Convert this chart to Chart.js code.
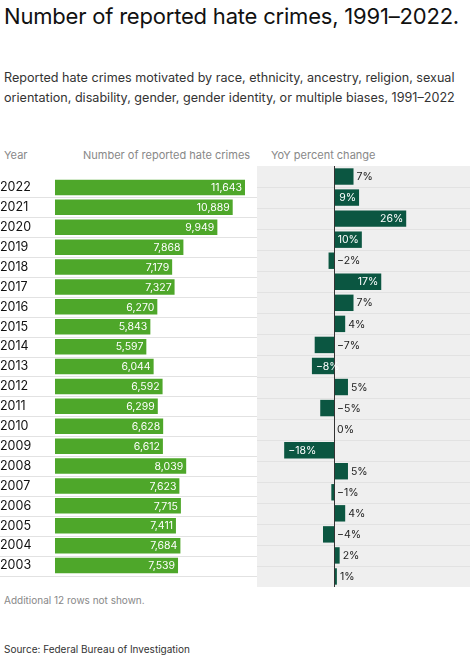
<!DOCTYPE html>
<html>
<head>
<meta charset="utf-8">
<script src="https://cdn.jsdelivr.net/npm/chart.js@4"></script>
<style>
  body { margin: 0; width: 474px; height: 661px; background: #fff; font-family: Inter, sans-serif; color: #222; position: relative; overflow: hidden; }
  .abs { position: absolute; }
  #title { left: 4px; top: 4px; width: 466px; font-size: 22px; line-height: 25px; color: #111; letter-spacing: -0.2px; }
  #sub { left: 4px; top: 68px; width: 466px; font-size: 12.6px; line-height: 20px; color: #333; }
  .hdr { top: 148px; font-size: 11px; color: #888; }
  #note { left: 4px; top: 594px; font-size: 10px; color: #888; }
  #src { left: 4px; top: 643px; font-size: 10px; color: #333; }
  #hline { left: 0; top: 166px; width: 470px; height: 1px; background: #ddd; }
</style>
</head>
<body>
<div id="title" class="abs">Number of reported hate crimes, 1991–2022.</div>
<div id="sub" class="abs">Reported hate crimes motivated by race, ethnicity, ancestry, religion, sexual orientation, disability, gender, gender identity, or multiple biases, 1991–2022</div>
<div class="abs hdr" style="left:4px">Year</div>
<div class="abs hdr" style="left:83px">Number of reported hate crimes</div>
<div class="abs hdr" style="left:271px">YoY percent change</div>
<div style="position:absolute;left:0;top:166px;width:257px;height:421px"><canvas id="c1"></canvas></div>
<div style="position:absolute;left:257px;top:166px;width:213px;height:421px"><canvas id="c2"></canvas></div>
<div id="note" class="abs">Additional 12 rows not shown.</div>
<div id="src" class="abs">Source: Federal Bureau of Investigation</div>
<script>
// data
const years = ['2022','2021','2020','2019','2018','2017','2016','2015','2014','2013','2012','2011','2010','2009','2008','2007','2006','2005','2004','2003'];
const crimes = [11643, 10889, 9949, 7868, 7179, 7327, 6270, 5843, 5597, 6044, 6592, 6299, 6628, 6612, 8039, 7623, 7715, 7411, 7684, 7539];
const yoy = [7, 9, 26, 10, -2, 17, 7, 4, -7, -8, 5, -5, 0, -18, 5, -1, 4, -4, 2, 1];

const GREEN = '#4ea72a';
const DARK = '#0b5641';
const FONT = "Inter, sans-serif";

// row separators across the whole canvas width
const rowLines = {
  id: 'rowLines',
  beforeDatasetsDraw(chart, args, opts) {
    const { ctx, scales: { y } } = chart;
    ctx.save();
    ctx.strokeStyle = '#e2e2e2';
    ctx.lineWidth = 1;
    for (let i = 0; i < years.length; i++) {
      const yy = Math.round(y.getPixelForValue(i) + y.height / years.length / 2) + 0.5;
      ctx.beginPath();
      ctx.moveTo(0, yy);
      ctx.lineTo(chart.width, yy);
      ctx.stroke();
    }
    ctx.restore();
  }
};

const crimeLabels = {
  id: 'crimeLabels',
  afterDatasetsDraw(chart) {
    const { ctx } = chart;
    ctx.save();
    ctx.font = '10.5px ' + FONT;
    ctx.fillStyle = '#fff';
    ctx.textAlign = 'right';
    ctx.textBaseline = 'middle';
    chart.getDatasetMeta(0).data.forEach((bar, i) => {
      ctx.fillText(crimes[i].toLocaleString('en-US'), bar.x - 3, bar.y + 0.5);
    });
    ctx.restore();
  }
};

const yoyPanel = {
  id: 'yoyPanel',
  beforeDraw(chart) {
    const { ctx, chartArea: a } = chart;
    ctx.save();
    ctx.fillStyle = '#efefef';
    ctx.fillRect(a.left, a.top, a.right - a.left, a.bottom - a.top);
    ctx.restore();
  },
  afterDatasetsDraw(chart) {
    const { ctx, chartArea: a, scales: { x } } = chart;
    const zero = x.getPixelForValue(0);
    ctx.save();
    ctx.strokeStyle = '#333';
    ctx.lineWidth = 1;
    ctx.beginPath();
    ctx.moveTo(Math.round(zero) + 0.5, a.top);
    ctx.lineTo(Math.round(zero) + 0.5, a.bottom);
    ctx.stroke();
    ctx.font = '10.5px ' + FONT;
    ctx.textBaseline = 'middle';
    chart.getDatasetMeta(0).data.forEach((bar, i) => {
      const v = yoy[i];
      const txt = (v < 0 ? '−' : '') + Math.abs(v) + '%';
      const w = Math.abs(bar.x - zero);
      if (w > 22) {
        ctx.fillStyle = '#fff';
        if (v > 0) { ctx.textAlign = 'right'; ctx.fillText(txt, bar.x - 3, bar.y + 0.5); }
        else { ctx.textAlign = 'left'; ctx.fillText(txt, bar.x + 4, bar.y + 0.5); }
      } else {
        ctx.fillStyle = '#222';
        ctx.textAlign = 'left';
        ctx.fillText(txt, Math.max(zero, bar.x) + 3, bar.y + 0.5);
      }
    });
    ctx.restore();
  }
};

const common = {
  indexAxis: 'y',
  responsive: true,
  maintainAspectRatio: false,
  animation: false,
  layout: { padding: 0 },
  plugins: { legend: { display: false }, tooltip: { enabled: false } }
};

new Chart(document.getElementById('c1'), {
  type: 'bar',
  data: { labels: years, datasets: [{ data: crimes, backgroundColor: GREEN, barPercentage: 0.78, categoryPercentage: 1 }] },
  options: {
    ...common,
    scales: {
      x: { display: false, min: 0, max: 12378 },
      y: {
        grid: { display: false },
        border: { display: false },
        afterFit(s) { s.width = 55; },
        ticks: { color: '#111', font: { family: FONT, size: 12.5 }, crossAlign: 'far', padding: 4 }
      }
    }
  },
  plugins: [rowLines, crimeLabels]
});

new Chart(document.getElementById('c2'), {
  type: 'bar',
  data: { labels: years, datasets: [{ data: yoy, backgroundColor: DARK, barPercentage: 0.78, categoryPercentage: 1 }] },
  options: {
    ...common,
    scales: {
      x: { display: false, min: -27.8, max: 49 },
      y: { display: false }
    }
  },
  plugins: [yoyPanel, rowLines]
});
</script>
</body>
</html>
